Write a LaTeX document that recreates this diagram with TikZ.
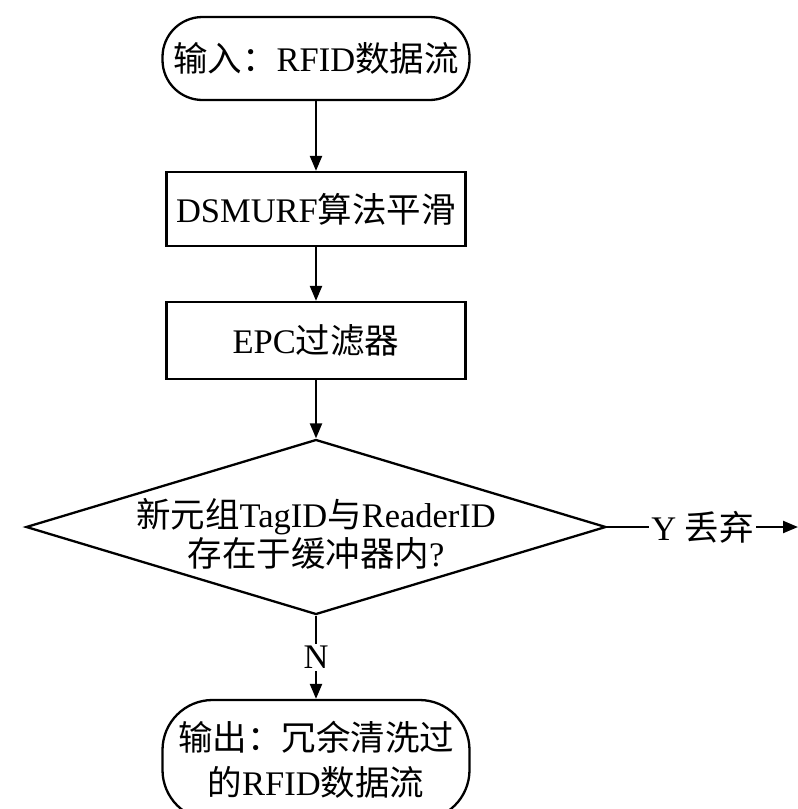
\documentclass[tikz,border=0pt]{standalone}
\usepackage{fontspec}
\setmainfont{Liberation Serif}
\newfontfamily\cjk{Noto Sans CJK SC}
\usetikzlibrary{shapes.geometric,arrows.meta}
\begin{document}
\begin{tikzpicture}[x=1pt,y=-1pt,
  ln/.style={line width=2.3pt},
  arr/.style={ln,-{Triangle[length=15pt,width=12pt]}},
  txt/.style={font=\fontsize{34.5}{38}\selectfont, align=center},
  term/.style={draw, ln, txt, rounded corners=40pt, minimum width=307pt, minimum height=83pt, inner sep=0pt},
  proc/.style={draw, ln, txt, minimum width=299pt, inner sep=0pt},
  dec/.style={draw, ln, txt, diamond, aspect=3.3, minimum width=580pt, minimum height=175pt, inner sep=-30pt},
  lab/.style={txt, fill=white, inner sep=2pt}]
\clip (0,0) rectangle (798,809);
\fill[white] (0,0) rectangle (798,809);
\node[term] (in) at (316,58.5) {{\cjk 输入：}RFID{\cjk 数据流}};
\node[proc, minimum height=74pt] (smooth) at (316,209) {DSMURF{\cjk 算法平滑}};
\node[proc, minimum height=77pt] (epc) at (316,340.5) {EPC{\cjk 过滤器}};
\node[dec] (d) at (316,527) {\rule{0pt}{42pt}{\cjk 新元组}TagID{\cjk 与}ReaderID\\[1pt]{\cjk 存在于缓冲器内}?};
\node[term, rounded corners=50pt, minimum height=120pt, font=\fontsize{34.5}{45}\selectfont] (out) at (316,760) {{\cjk 输出：冗余清洗过}\\{\cjk 的}RFID{\cjk 数据流}};
\coordinate (drop) at (798,527);
\draw[arr] (in) -- (smooth);
\draw[arr] (smooth) -- (epc);
\draw[arr] (epc) -- (d);
\draw[arr] (d.south) -- node[lab] (n) {N} (out.north);
\draw[arr] (d.east) -- node[lab, pos=0.5] (y) {Y {\cjk 丢弃}} (drop);
\end{tikzpicture}
\end{document}
